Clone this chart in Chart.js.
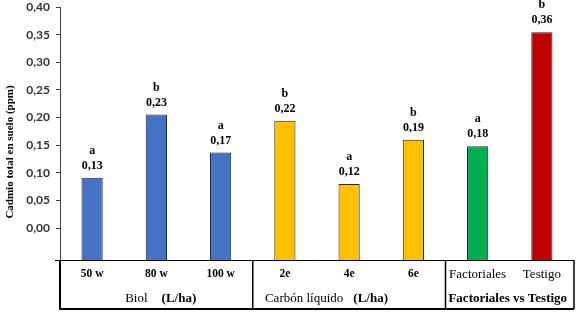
<!DOCTYPE html>
<html>
<head>
<meta charset="utf-8">
<script src="https://cdn.jsdelivr.net/npm/chart.js@4.4.1/dist/chart.umd.min.js"></script>
<style>
  html, body { margin: 0; padding: 0; background: #fff; }
  #wrap { width: 577px; height: 316px; }
</style>
</head>
<body>
<div id="wrap"><canvas id="chart"></canvas></div>
<script>
// Values
const categories = ['50 w', '80 w', '100 w', '2e', '4e', '6e', 'Factoriales', 'Testigo'];
const cadmio = [0.13, 0.23, 0.17, 0.22, 0.12, 0.19, 0.18, 0.36];
const letters = ['a', 'b', 'a', 'b', 'a', 'b', 'a', 'b'];
const barColors = ['#4472C4', '#4472C4', '#4472C4', '#FFC000', '#FFC000', '#FFC000', '#00B050', '#C00000'];
const boldCategory = [true, true, true, true, true, true, false, false];
const groupNames = ['Biol', 'Carbón líquido', 'Factoriales vs Testigo'];
const groupUnits = ['(L/ha)', '(L/ha)', ''];
const groupFirst = [0, 3, 6];
const groupLast = [2, 5, 7];
const yTickValues = [0, 0.05, 0.10, 0.15, 0.20, 0.25, 0.30, 0.35, 0.40];
const yTitle = 'Cadmio total en suelo (ppm)';

const serif = "'Liberation Serif', 'Times New Roman', serif";

function fmt(v) {
    return v.toFixed(2).replace('.', ',');
}

// letters + values over each bar
const barLabels = {
    id: 'barLabels',
    afterDatasetsDraw(chart) {
        const ctx = chart.ctx;
        const meta = chart.getDatasetMeta(0);
        ctx.save();
        ctx.fillStyle = '#000';
        ctx.textAlign = 'center';
        ctx.textBaseline = 'middle';
        ctx.font = 'bold 12px ' + serif;
        meta.data.forEach((bar, i) => {
            ctx.fillText(fmt(cadmio[i]), bar.x, bar.y - 12);
            ctx.fillText(letters[i], bar.x, bar.y - 27);
        });
        ctx.restore();
    }
};

// boxed category area under the plot, group names and the y title
const frame = {
    id: 'frame',
    afterDraw(chart) {
        const ctx = chart.ctx;
        const area = chart.chartArea;
        const x = chart.scales.x;
        const top = area.bottom;
        const bottom = area.bottom + 49;
        const divider = g => (x.getPixelForValue(groupLast[g]) + x.getPixelForValue(groupFirst[g + 1])) / 2;

        ctx.save();
        ctx.strokeStyle = '#000';

        ctx.lineWidth = 1;
        ctx.beginPath();
        ctx.moveTo(area.left - 5, top + 0.5);
        ctx.lineTo(area.right, top + 0.5);
        ctx.stroke();

        ctx.lineWidth = 2;
        ctx.beginPath();
        ctx.moveTo(area.left, top);
        ctx.lineTo(area.left, bottom);
        ctx.lineTo(area.right, bottom);
        ctx.stroke();

        ctx.lineWidth = 1.5;
        ctx.beginPath();
        ctx.moveTo(area.right, top);
        ctx.lineTo(area.right, bottom);
        for (let g = 0; g < groupLast.length - 1; g++) {
            ctx.moveTo(divider(g), top);
            ctx.lineTo(divider(g), bottom);
        }
        ctx.stroke();

        // group labels
        const shift = [-20, -45, -2];
        const gap = [14, 10, 0];
        ctx.fillStyle = '#000';
        ctx.textBaseline = 'middle';
        const ty = top + 39;
        groupNames.forEach((name, g) => {
            const left = g === 0 ? area.left : divider(g - 1);
            const right = g === groupNames.length - 1 ? area.right : divider(g);
            const cx = (left + right) / 2 + shift[g];
            ctx.textAlign = 'center';
            if (groupUnits[g]) {
                ctx.font = '13px ' + serif;
                ctx.fillText(name, cx, ty);
                const nw = ctx.measureText(name).width;
                ctx.textAlign = 'left';
                ctx.font = 'bold 13px ' + serif;
                ctx.fillText(groupUnits[g], cx + nw / 2 + gap[g], ty);
            } else {
                ctx.font = 'bold 13px ' + serif;
                ctx.fillText(name, cx, ty);
            }
        });

        // y axis title
        ctx.translate(10, 152);
        ctx.rotate(-Math.PI / 2);
        ctx.textAlign = 'center';
        ctx.font = 'bold 11px ' + serif;
        ctx.fillText(yTitle, 0, 0);
        ctx.restore();
    }
};

new Chart(document.getElementById('chart'), {
    type: 'bar',
    data: {
        labels: categories,
        datasets: [{
            data: cadmio,
            backgroundColor: barColors,
            borderColor: '#262626',
            borderWidth: 1,
            borderSkipped: 'bottom',
            barPercentage: 0.33,
            categoryPercentage: 1,
            yAxisID: 'y'
        }]
    },
    options: {
        responsive: true,
        maintainAspectRatio: false,
        animation: false,
        layout: { padding: { top: 7, right: 3, left: 0, bottom: 0 } },
        plugins: {
            legend: { display: false },
            tooltip: { enabled: false }
        },
        scales: {
            x: {
                grid: { display: false, drawTicks: false },
                border: { display: false },
                ticks: {
                    padding: 7,
                    color: '#000',
                    maxRotation: 0,
                    autoSkip: false,
                    font: c => boldCategory[c.index]
                        ? { family: serif, size: 11.5, weight: 'bold' }
                        : { family: serif, size: 13, weight: 'normal' }
                },
                afterFit: s => { s.height = 56; }
            },
            y: {
                display: false,
                min: 0,
                max: 0.40
            },
            yAxis: {
                position: 'left',
                min: -0.0575,
                max: 0.40,
                grid: { drawOnChartArea: false, drawTicks: true, tickLength: 4, color: '#404040' },
                border: { display: true, color: '#404040', width: 1 },
                ticks: {
                    padding: 6,
                    color: '#333',
                    font: { family: 'Lato', size: 12, weight: 'bold' },
                    callback: v => fmt(v)
                },
                afterBuildTicks: s => { s.ticks = yTickValues.map(v => ({ value: v })); },
                afterFit: s => {
                    s.width = 60;
                    s.paddingTop = 0;
                    s.paddingBottom = 0;
                }
            }
        }
    },
    plugins: [barLabels, frame]
});
</script>
</body>
</html>
